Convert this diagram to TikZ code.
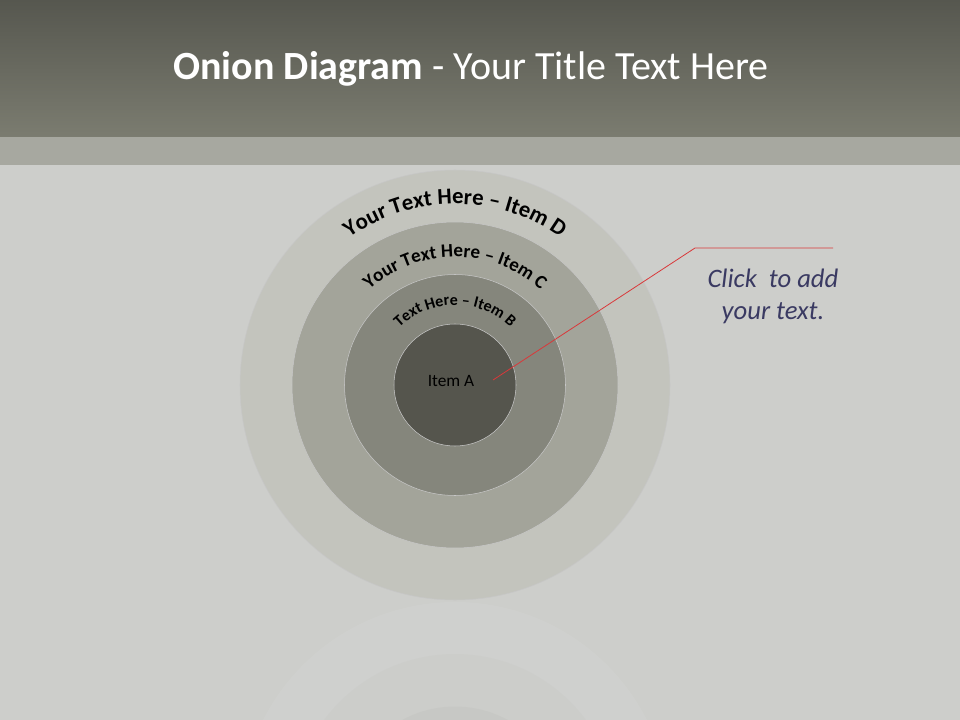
\documentclass[tikz,border=0pt]{standalone}
\usepackage{fontspec}
\setmainfont{Carlito}
\usetikzlibrary{decorations.text}

\definecolor{slidebg}{HTML}{CDCECB}
\definecolor{bartop}{HTML}{56574F}
\definecolor{barbottom}{HTML}{7B7C70}
\definecolor{band}{HTML}{A7A8A0}
\definecolor{layerD}{HTML}{C3C4BD}
\definecolor{layerC}{HTML}{A3A49A}
\definecolor{layerB}{HTML}{85867C}
\definecolor{layerA}{HTML}{55554D}
\definecolor{calloutred}{HTML}{D9383A}
\definecolor{noteblue}{HTML}{3A3A62}

\tikzstyle{layer}=[circle, inner sep=0, draw=black!22, line width=0.4pt]
\tikzstyle{ghost}=[circle, inner sep=0, opacity=0.06]
\tikzstyle{ringtext}=[decorate, decoration={text along path, text align=center}]

\begin{document}
\begin{tikzpicture}[x=0.75pt, y=-0.75pt]

\useasboundingbox (0, 0) rectangle (960, 720);
\fill [slidebg] (0, 0) rectangle (960, 720);
\shade [top color=bartop, bottom color=barbottom] (0, 0) rectangle (960, 137);
\fill [band] (0, 137) rectangle (960, 165);

\node [text=white, font=\fontsize{30}{36}\selectfont] (title) at (471, 69)
        {\textbf{Onion Diagram} - Your Title Text Here};

\begin{scope}
\clip (0, 600) rectangle (960, 720);
\node [ghost, fill=white, minimum size=322.5pt] (echoD) at (455, 817) {};
\node [ghost, fill=layerC, minimum size=244.5pt] (echoC) at (455, 817) {};
\node [ghost, fill=layerB, minimum size=165.75pt] (echoB) at (455, 817) {};
\end{scope}

\node [layer, fill=layerD, minimum size=322.5pt] (D) at (455, 385) {};
\node [layer, fill=layerC, minimum size=244.5pt] (C) at (455, 385) {};
\node [layer, fill=layerB, minimum size=165.75pt] (B) at (455, 385) {};
\node [layer, fill=layerA, minimum size=91.5pt] (A) at (455, 385) {};

\path [ringtext, decoration={text={|\fontsize{17}{17}\selectfont\bfseries|Your Text Here – Item D}}]
        (A.center) ++(180:135.75pt) arc [start angle=180, end angle=0, radius=135.75pt];
\path [ringtext, decoration={text={|\fontsize{14.3}{14}\selectfont\bfseries|Your Text Here – Item C}}]
        (A.center) ++(180:96pt) arc [start angle=180, end angle=0, radius=96pt];
\path [ringtext, decoration={text={|\fontsize{12}{12}\selectfont\bfseries|Text Here – Item B}}]
        (A.center) ++(180:60pt) arc [start angle=180, end angle=0, radius=60pt];

\node [text=black, font=\fontsize{13}{15}\selectfont] (itemA) at (451, 381) {Item A};

\coordinate (pin) at (493, 380);
\coordinate (elbow) at (695, 248);
\coordinate (lineend) at (833, 248);
\draw [calloutred, line width=0.6pt] (pin) to (elbow) to (lineend);

\node [text=noteblue, align=center, font=\fontsize{20}{24}\selectfont\itshape] (note) at (773, 296)
        {Click\ \ to add\\your text.};

\end{tikzpicture}
\end{document}
